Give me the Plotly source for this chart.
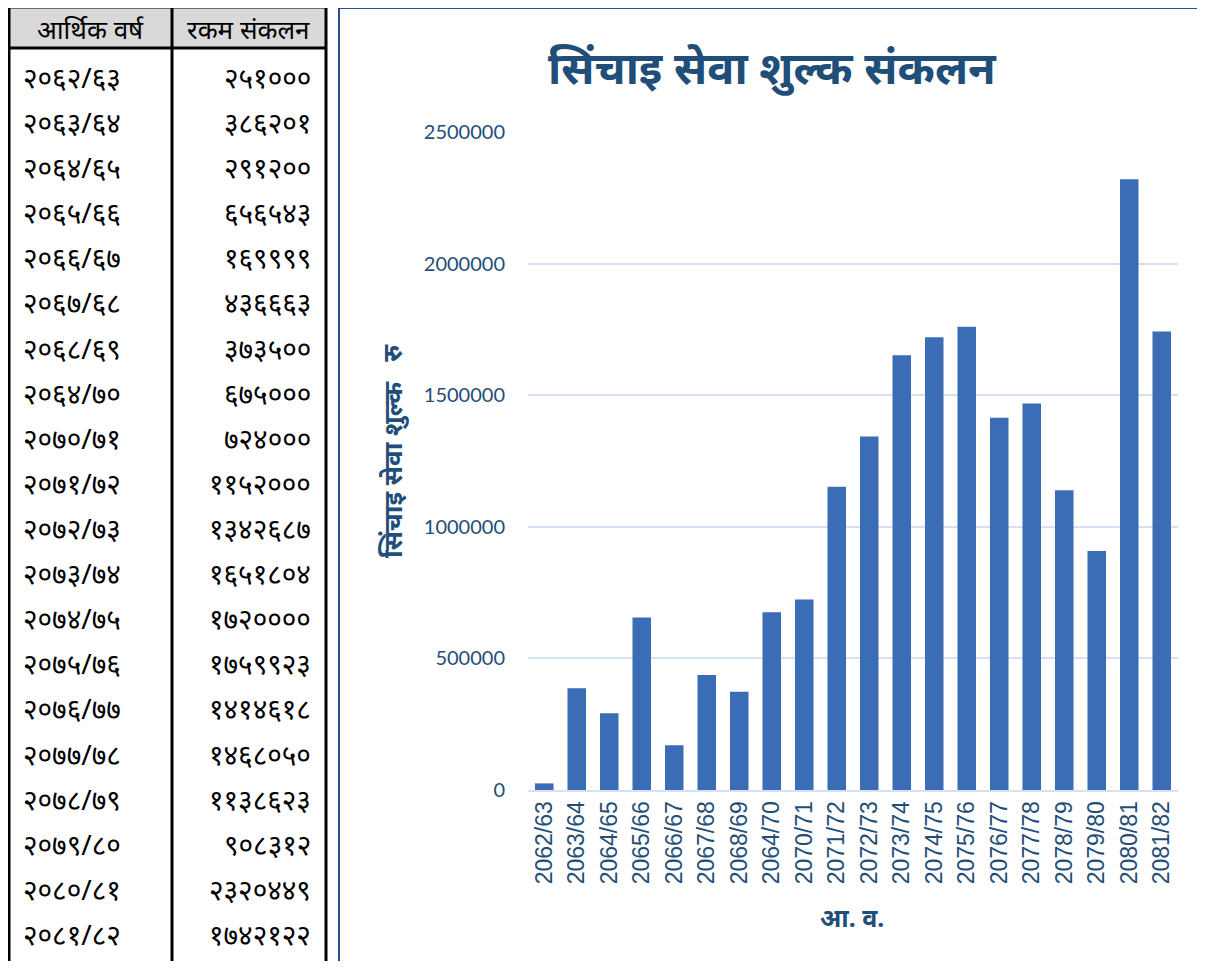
import plotly.graph_objects as go

# ---- data ----
years_dev = ["२०६२/६३", "२०६३/६४", "२०६४/६५", "२०६५/६६", "२०६६/६७", "२०६७/६८", "२०६८/६९",
             "२०६४/७०", "२०७०/७१", "२०७१/७२", "२०७२/७३", "२०७३/७४", "२०७४/७५", "२०७५/७६",
             "२०७६/७७", "२०७७/७८", "२०७८/७९", "२०७९/८०", "२०८०/८१", "२०८१/८२"]
amounts_dev = ["२५१०००", "३८६२०१", "२९१२००", "६५६५४३", "१६९९९९", "४३६६६३", "३७३५००",
               "६७५०००", "७२४०००", "११५२०००", "१३४२६८७", "१६५१८०४", "१७२००००", "१७५९९२३",
               "१४१४६१८", "१४६८०५०", "११३८६२३", "९०८३१२", "२३२०४४९", "१७४२१२२"]
years = ["2062/63", "2063/64", "2064/65", "2065/66", "2066/67", "2067/68", "2068/69",
         "2064/70", "2070/71", "2071/72", "2072/73", "2073/74", "2074/75", "2075/76",
         "2076/77", "2077/78", "2078/79", "2079/80", "2080/81", "2081/82"]
values = [25100, 386201, 291200, 655543, 169999, 436663, 373500, 675000, 724000, 1152000,
          1342687, 1651804, 1720000, 1759923, 1414618, 1468050, 1138623, 908312, 2320449, 1742122]
y_ticks = [0, 500000, 1000000, 1500000, 2000000, 2500000]

title_text = "सिंचाइ सेवा शुल्क संकलन"
ytitle_text = "सिंचाइ सेवा शुल्क&nbsp;&nbsp;&nbsp;रु"
xtitle_text = "आ. व."
header_left = "आर्थिक वर्ष"
header_right = "रकम संकलन"

# page offset (body margin) compensation
OFF = 8
W, H = 1205 - 2 * OFF, 969 - 2 * OFF
DARK = "#1f4e79"
FONT = "Noto Sans, Noto Sans Devanagari, sans-serif"

def px(x):
    return (x - OFF) / W

def py(y):
    return 1 - (y - OFF) / H

fig = go.Figure()
fig.add_trace(go.Bar(x=years, y=values, marker=dict(color="#3a6db5", line=dict(width=0)),
                     width=0.57))

shapes = []
annotations = []

# ---- table on the left ----
tl, tm, tr = 9, 172, 326
htop, hbot = 7, 48
shapes.append(dict(type="rect", xref="paper", yref="paper", x0=px(tl), x1=px(tr),
                   y0=py(hbot), y1=py(htop), fillcolor="#d9d9d9", line=dict(width=0), layer="below"))
for x in (tl, tm, tr):
    shapes.append(dict(type="line", xref="paper", yref="paper", x0=px(x), x1=px(x),
                       y0=py(H + 40), y1=py(htop), line=dict(color="black", width=3)))
for y in (htop, hbot):
    shapes.append(dict(type="line", xref="paper", yref="paper", x0=px(tl), x1=px(tr),
                       y0=py(y), y1=py(y), line=dict(color="black", width=3)))
annotations.append(dict(text=header_left, x=px((tl + tm) / 2), y=py(29), xref="paper", yref="paper",
                        showarrow=False, font=dict(size=26, color="black", family=FONT),
                        xanchor="center", yanchor="middle"))
annotations.append(dict(text=header_right, x=px((tm + tr) / 2), y=py(29), xref="paper", yref="paper",
                        showarrow=False, font=dict(size=26, color="black", family=FONT),
                        xanchor="center", yanchor="middle"))
row0, rstep = 77, 45.1
for i, (yd, ad) in enumerate(zip(years_dev, amounts_dev)):
    yy = row0 + i * rstep
    annotations.append(dict(text=yd, x=px(21), y=py(yy), xref="paper", yref="paper", showarrow=False,
                            font=dict(size=28, color="black", family=FONT),
                            xanchor="left", yanchor="middle"))
    annotations.append(dict(text=ad, x=px(313), y=py(yy), xref="paper", yref="paper", showarrow=False,
                            font=dict(size=28, color="black", family=FONT),
                            xanchor="right", yanchor="middle"))

# ---- chart panel border ----
shapes.append(dict(type="line", xref="paper", yref="paper", x0=px(339), x1=px(339),
                   y0=py(H + 40), y1=py(8), line=dict(color="#2a4f8a", width=2)))
shapes.append(dict(type="line", xref="paper", yref="paper", x0=px(339), x1=px(1240),
                   y0=py(8), y1=py(8), line=dict(color="#2a4f8a", width=2)))
shapes.append(dict(type="line", xref="paper", yref="paper", x0=px(339), x1=px(1240),
                   y0=py(967), y1=py(967), line=dict(color="#8eaadb", width=2)))

annotations.append(dict(text="<b>" + title_text + "</b>", x=px(772), y=py(67), xref="paper", yref="paper",
                        showarrow=False, font=dict(size=45, color=DARK, family=FONT),
                        xanchor="center", yanchor="middle"))
annotations.append(dict(text="<b>" + ytitle_text + "</b>", x=px(392), y=py(451), xref="paper", yref="paper",
                        showarrow=False, textangle=-90, font=dict(size=26, color=DARK, family=FONT),
                        xanchor="center", yanchor="middle"))
annotations.append(dict(text="<b>" + xtitle_text + "</b>", x=px(852), y=py(917), xref="paper", yref="paper",
                        showarrow=False, font=dict(size=25, color=DARK, family=FONT),
                        xanchor="center", yanchor="middle"))

fig.update_layout(
    width=W, height=H,
    margin=dict(l=0, r=0, t=0, b=0),
    paper_bgcolor="white", plot_bgcolor="white",
    showlegend=False,
    shapes=shapes,
    annotations=annotations,
    xaxis=dict(domain=[px(528), px(1178)], tickangle=-90, showgrid=False, showline=True,
               linecolor="#d6e2f3", linewidth=2, ticks="", automargin=False,
               tickfont=dict(size=23, color=DARK, family="Liberation Sans, Arial, sans-serif")),
    yaxis=dict(domain=[py(790), py(132)], range=[0, 2500000], tickvals=y_ticks,
               ticktext=[str(v) for v in y_ticks], showgrid=True, gridcolor="#d6e2f3",
               gridwidth=2, zeroline=False, showline=False, ticks="", automargin=False,
               ticklabelstandoff=22,
               tickfont=dict(size=20, color=DARK, family="Lato, sans-serif")),
)

fig.write_html("out.html")
